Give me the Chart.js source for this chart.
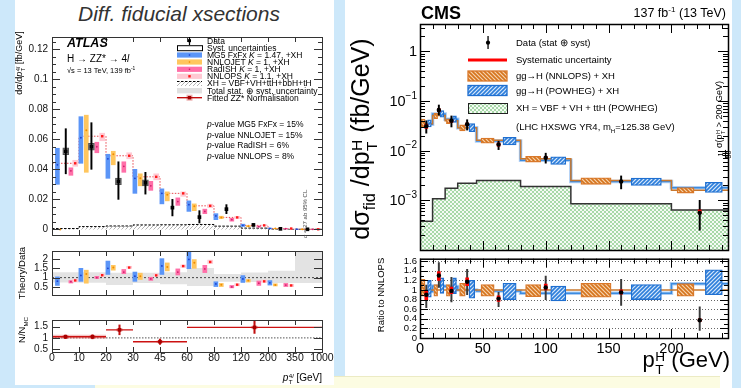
<!DOCTYPE html>
<html>
<head>
<meta charset="utf-8">
<title>Higgs pT fiducial cross sections: ATLAS and CMS</title>
<script src="https://cdn.jsdelivr.net/npm/chart.js@4.4.1/dist/chart.umd.min.js"></script>
<style>
  body { margin: 0; width: 741px; height: 388px; overflow: hidden; position: relative;
         background: #cde8fa; font-family: "Liberation Sans", Arial, Helvetica, sans-serif; color: #000; }
  .panel { position: absolute; background: #fff; }
  .cv { position: absolute; }
  .t { position: absolute; white-space: nowrap; line-height: 1; transform: translateY(-50%); }
  .rot { position: absolute; white-space: nowrap; line-height: 1; transform: translate(-50%, -50%) rotate(-90deg); }
  .ss { display: inline-flex; flex-direction: column; font-size: 62%; line-height: 0.95; vertical-align: 0.45em; margin-left: 0.5px; }
  sup, sub { font-size: 65%; line-height: 0; }
  .lg { font-size: 8.5px; left: 207px; }
  .cl { font-size: 9.5px; left: 516px; }
</style>
</head>
<body>
<div class="panel" style="left:345px;top:0;width:387px;height:388px"></div>
<div style="position:absolute;left:95px;top:376px;width:625px;height:14px;background:#fcfce2;border-top:1px solid #ecebc4"></div>
<div class="panel" style="left:15px;top:0;width:319px;height:385px"></div>

<canvas id="atlasMain" class="cv" width="336" height="218" style="left:0;top:27px"></canvas>
<canvas id="atlasRatio" class="cv" width="336" height="64" style="left:0;top:241px"></canvas>
<canvas id="atlasNorm" class="cv" width="336" height="62" style="left:0;top:310px"></canvas>
<canvas id="cmsMain" class="cv" width="388" height="234" style="left:345px;top:20px"></canvas>
<canvas id="cmsRatio" class="cv" width="388" height="112" style="left:345px;top:250px"></canvas>

<!-- ATLAS texts -->
<div class="t" style="left:179px;top:13px;transform:translate(-50%,-50%);font-size:21px;font-style:italic;color:#333">Diff. fiducial xsections</div>
<div class="t" style="left:67px;top:43px;font-size:12.5px;font-weight:bold;font-style:italic">ATLAS</div>
<div class="t" style="left:67px;top:58.5px;font-size:10px">H → ZZ* → 4<i>l</i></div>
<div class="t" style="left:67px;top:71px;font-size:7.5px">√s = 13 TeV, 139 fb<sup>-1</sup></div>
<div class="t lg" style="top:40.7px">Data</div>
<div class="t lg" style="top:47.7px">Syst. uncertainties</div>
<div class="t lg" style="top:55px">MG5 FxFx <i>K</i> = 1.47, +XH</div>
<div class="t lg" style="top:62px">NNLOJET <i>K</i> = 1, +XH</div>
<div class="t lg" style="top:69.3px">RadISH <i>K</i> = 1, +XH</div>
<div class="t lg" style="top:76.3px">NNLOPS <i>K</i> = 1.1, +XH</div>
<div class="t lg" style="top:83.3px">XH = VBF+VH+ttH+bbH+tH</div>
<div class="t lg" style="top:90.7px">Total stat. ⊕ syst. uncertainty</div>
<div class="t lg" style="top:97.7px">Fitted ZZ* Normalisation</div>
<div class="t lg" style="top:124px"><i>p</i>-value MG5 FxFx = 15%</div>
<div class="t lg" style="top:134.5px"><i>p</i>-value NNLOJET = 15%</div>
<div class="t lg" style="top:145px"><i>p</i>-value RadISH = 6%</div>
<div class="t lg" style="top:155.5px"><i>p</i>-value NNLOPS = 8%</div>
<div class="rot" style="left:305px;top:214px;font-size:6px;color:#444">σ &lt; 27 ab 95% CL</div>
<div class="rot" style="left:21px;top:63px;font-size:9px">dσ/d<i>p</i><span class="ss"><span>4<i>l</i></span><span>T</span></span> [fb/GeV]</div>
<div class="rot" style="left:21.5px;top:273px;font-size:9.5px">Theory/Data</div>
<div class="rot" style="left:21.5px;top:330px;font-size:9.5px">N/N<sub>MC</sub></div>
<div class="t" style="right:419px;top:379px;font-size:10px"><i>p</i><span class="ss"><span>4<i>l</i></span><span>T</span></span> [GeV]</div>

<!-- CMS texts -->
<div class="t" style="left:421px;top:13px;font-size:18px;font-weight:bold">CMS</div>
<div class="t" style="right:15px;top:13px;font-size:12.5px">137 fb<sup>-1</sup> (13 TeV)</div>
<div class="t cl" style="top:42.7px">Data (stat ⊕ syst)</div>
<div class="t cl" style="top:60px">Systematic uncertainty</div>
<div class="t cl" style="top:76px">gg→H (NNLOPS) + XH</div>
<div class="t cl" style="top:90.7px">gg→H (POWHEG) + XH</div>
<div class="t cl" style="top:108.3px">XH = VBF + VH + ttH (POWHEG)</div>
<div class="t cl" style="top:127px">(LHC HXSWG YR4, m<sub>H</sub>=125.38 GeV)</div>
<div class="rot" style="left:364px;top:139px;font-size:25px">dσ<sub>fid</sub> /dp<span class="ss"><span>H</span><span>T</span></span> (fb/GeV)</div>
<div class="rot" style="left:381px;top:295px;font-size:9.5px">Ratio to NNLOPS</div>
<div class="t" style="right:11px;top:363px;font-size:22px">p<span class="ss"><span>H</span><span>T</span></span> (GeV)</div>
<div class="rot" style="left:724px;top:120px;font-size:9px"><span class="ss" style="font-size:80%;vertical-align:-0.2em;text-align:center"><span style="border-bottom:0.6px solid #000">1</span><span>50</span></span> σ(p<span class="ss"><span>H</span><span>T</span></span> &gt; 200 GeV)</div>

<script>
// ===================== ATLAS  H -> ZZ* -> 4l =====================
const atlasTickLabels = ['0', '10', '20', '30', '45', '60', '80', '120', '200', '350', '1000'];

// main panel, dsigma/dpT [fb/GeV], one value per bin
const mg5       = [0.043, 0.061, 0.047, 0.034, 0.024, 0.0165, 0.009, 0.0027, 0.0007, 0.00015];
const mg5Lo     = [0.030, 0.044, 0.034, 0.024, 0.017, 0.012, 0.0065, 0.002, 0.0005, 0.0001];
const mg5Hi     = [0.054, 0.075, 0.050, 0.040, 0.027, 0.019, 0.0105, 0.0035, 0.0009, 0.0002];
const nnlojet   = [0, 0.066, 0.050, 0.034, 0.023, 0.0155, 0.008, 0.0022, 0.0006, 0.0001];
const nnlojetLo = [null, 0.038, 0.043, 0.029, 0.019, 0.0125, 0.0072, 0.0018, 0.0005, 0.0001];
const nnlojetHi = [null, 0.076, 0.052, 0.037, 0.025, 0.017, 0.0088, 0.0026, 0.0007, 0.00015];
const radish    = [0.039, 0.055, 0.042, 0.029, 0.0185, 0.012, 0.0065, 0.0019, 0.0005, 0.0001];
const radishLo  = [0.036, 0.051, 0.038, 0.026, 0.016, 0.0105, 0.0055, 0.0015, 0.0004, 0.00005];
const radishHi  = [0.041, 0.058, 0.045, 0.032, 0.021, 0.0135, 0.0074, 0.0023, 0.0006, 0.00015];
const nnlops    = [0.044, 0.062, 0.049, 0.035, 0.024, 0.0157, 0.008, 0.0027, 0.0006, 0.0001];
const nnlopsLo  = [0.042, 0.059, 0.047, 0.033, 0.022, 0.0145, 0.0073, 0.0024, 0.0005, 0.00005];
const nnlopsHi  = [0.046, 0.064, 0.051, 0.037, 0.025, 0.0168, 0.0087, 0.003, 0.0007, 0.00015];
const atlasData   = [0.052, 0.055, 0.032, 0.031, 0.0145, 0.0082, 0.0135, 0.003, 0.0004, 0.0001];
const atlasDataLo = [0.037, 0.040, 0.020, 0.0235, 0.009, 0.0043, 0.0105, 0.0022, 0.0001, 0];
const atlasDataHi = [0.067, 0.071, 0.045, 0.038, 0.020, 0.0125, 0.0165, 0.0038, 0.0007, 0.0002];
const atlasSyst   = [0.0022, 0.0022, 0.0022, 0.002, null, null, null, null, null, null];
const xhAtlas     = [0.0006, 0.0019, 0.0023, 0.003, 0.0031, 0.0033, 0.0022, 0.0009, 0.0003, 0.0001];

// Theory / Data
const mg5R       = [0.81, 1.12, 1.5, 1.08, 1.63, 1.98, 0.66, 0.93, 0.72, null];
const mg5RLo     = [0.58, 0.80, 1.17, 0.80, 1.17, 1.48, 0.52, 0.74, 0.60, null];
const mg5RHi     = [1.04, 1.50, 1.89, 1.30, 2.02, 2.40, 0.78, 1.11, 0.84, null];
const nnlojetR   = [null, 1.2, 1.55, 1.08, 1.57, 1.8, 0.62, 0.84, 0.61, null];
const nnlojetRLo = [null, 0.70, 1.40, 0.90, 1.36, 1.50, 0.52, 0.76, 0.55, null];
const nnlojetRHi = [null, 1.40, 1.66, 1.24, 1.79, 1.97, 0.69, 0.90, 0.67, null];
const radishR    = [0.78, 1.0, 1.3, 0.93, 1.3, 1.47, 0.5, 0.7, 0.6, null];
const radishRLo  = [0.71, 0.95, 1.21, 0.85, 1.14, 1.27, 0.45, 0.58, 0.52, null];
const radishRHi  = [0.84, 1.07, 1.44, 1.02, 1.47, 1.66, 0.58, 0.82, 0.69, null];
const nnlopsR    = [0.85, 1.13, 1.54, 1.12, 1.62, 1.84, 0.62, 0.8, 0.58, null];
const nnlopsRLo  = [0.78, 1.07, 1.50, 1.08, 1.55, 1.76, 0.56, 0.74, 0.52, null];
const nnlopsRHi  = [0.92, 1.20, 1.61, 1.20, 1.68, 1.94, 0.68, 0.87, 0.64, null];
const totUncLo   = [0.74, 0.72, 0.61, 0.71, 0.64, 0.55, 0.78, 0.76, 0.71, 0.71];
const totUncHi   = [1.29, 1.29, 1.26, 1.26, 1.29, 1.52, 1.20, 1.27, 1.37, 2.43];

// fitted ZZ* normalisation (x in bin-index units)
const normCenter = [0.5, 1.5, 2.5, 4, 7.5];
const normFrom   = [0, 1, 2, 3, 5];
const normTo     = [1, 2, 3, 5, 10];
const normVal    = [1.05, 1.05, 1.36, 0.83, 1.47];
const normErr    = [0.08, 0.09, 0.22, 0.12, 0.27];

// ===================== CMS  H pT =====================
const cmsEdges  = [0, 10, 20, 30, 45, 80, 120, 200, 245];
const cmsDataX  = [5, 15, 25, 37.5, 62.5, 100, 160, 222.5];
const cmsData   = [0.031, 0.066, 0.040, 0.034, 0.0133, 0.0072, 0.0024, 0.00056];
const cmsDataLo = [0.0225, 0.052, 0.030, 0.026, 0.0105, 0.0056, 0.0017, 0.00025];
const cmsDataHi = [0.040, 0.083, 0.050, 0.042, 0.0155, 0.0089, 0.0031, 0.0010];
const cmsSystLo = [0.028, 0.061, 0.037, 0.032, 0.0123, 0.0069, 0.00228, 0.00054];
const cmsSystHi = [0.034, 0.070, 0.042, 0.036, 0.0143, 0.0077, 0.0025, 0.00064];
const cmsNnlops   = [0.035, 0.051, 0.040, 0.029, 0.0162, 0.0069, 0.0025, 0.0016];
const cmsNnlopsLo = [0.030, 0.044, 0.035, 0.025, 0.0141, 0.0059, 0.0021, 0.0014];
const cmsNnlopsHi = [0.043, 0.057, 0.044, 0.033, 0.018, 0.0077, 0.00285, 0.0018];
const cmsPowheg   = [0.034, 0.055, 0.043, 0.029, 0.0157, 0.0064, 0.0024, 0.0018];
const cmsPowhegLo = [0.030, 0.047, 0.037, 0.024, 0.013, 0.0053, 0.002, 0.00144];
const cmsPowhegHi = [0.042, 0.064, 0.050, 0.035, 0.0185, 0.0075, 0.0028, 0.0023];
const cmsXH       = [0.00038, 0.00108, 0.00176, 0.0022, 0.0025, 0.0019, 0.00085, 0.00064];

// ratio to NNLOPS
const cmsRatio     = [0.9, 1.3, 0.98, 1.17, 0.82, 1.05, 0.95, 0.37];
const cmsRatioLo   = [0.63, 1.05, 0.75, 0.9, 0.65, 0.8, 0.68, 0.16];
const cmsRatioHi   = [1.1, 1.57, 1.26, 1.43, 0.95, 1.29, 1.22, 0.65];
const cmsRSystLo   = [0.8, 1.2, 0.92, 1.09, 0.76, 1.0, 0.91, 0.34];
const cmsRSystHi   = [0.97, 1.38, 1.06, 1.25, 0.88, 1.12, 1.0, 0.40];
const nnlopsRatio   = [1, 1, 1, 1, 1, 1, 1, 1];
const nnlopsRatioLo = [0.87, 0.87, 0.87, 0.87, 0.87, 0.86, 0.85, 0.87];
const nnlopsRatioHi = [1.22, 1.11, 1.11, 1.14, 1.11, 1.11, 1.14, 1.13];
const powhegRatio   = [0.97, 1.08, 1.07, 1.0, 0.98, 0.93, 0.93, 1.13];
const powhegRatioLo = [0.85, 0.93, 0.92, 0.83, 0.8, 0.77, 0.8, 0.9];
const powhegRatioHi = [1.2, 1.25, 1.25, 1.2, 1.14, 1.08, 1.11, 1.42];

// ------------------------------------------------------------
const FONT = '"Liberation Sans", Arial, Helvetica, sans-serif';
Chart.defaults.font.family = FONT;
Chart.defaults.color = '#000';

function hatch(bg, fg, dir, step, lw) {
  const c = document.createElement('canvas');
  c.width = step; c.height = step;
  const g = c.getContext('2d');
  if (bg) { g.fillStyle = bg; g.fillRect(0, 0, step, step); }
  g.strokeStyle = fg; g.lineWidth = lw;
  const ln = (a, b, cc, d) => { g.beginPath(); g.moveTo(a, b); g.lineTo(cc, d); g.stroke(); };
  if (dir.includes('/')) { ln(-1, step + 1, step + 1, -1); ln(-1, 1, 1, -1); ln(step - 1, step + 1, step + 1, step - 1); }
  if (dir.includes('\\')) { ln(-1, -1, step + 1, step + 1); ln(step - 1, -1, step + 1, 1); ln(-1, step - 1, 1, step + 1); }
  return g.createPattern(c, 'repeat');
}
const grayHatch   = hatch(null, '#a0a0a0', '/', 4, 0.8);
const orangeHatch = hatch('#f6d2ad', '#d5741c', '\\', 4, 1.6);
const blueHatch   = hatch('#d9e8fa', '#2d7fdb', '/', 4, 1.6);
const greenHatch  = hatch('#f4fbf4', '#9fd49f', '/\\', 4, 0.9);

// ROOT-style frame with inward ticks
const rootAxes = {
  id: 'rootAxes',
  beforeDatasetsDraw(chart, args, o) {
    if (!o.grid) return;
    const { ctx, chartArea: a, scales: { y } } = chart;
    ctx.save();
    ctx.strokeStyle = '#666'; ctx.lineWidth = 1; ctx.setLineDash([1, 2]);
    ctx.beginPath();
    o.grid.forEach(v => { const py = Math.round(y.getPixelForValue(v)) + 0.5; ctx.moveTo(a.left, py); ctx.lineTo(a.right, py); });
    ctx.stroke();
    ctx.restore();
  },
  afterDatasetsDraw(chart, args, o) {
    const { ctx, chartArea: a, scales: { x, y } } = chart;
    ctx.save();
    ctx.strokeStyle = o.color || '#000';
    ctx.lineWidth = 1;
    ctx.beginPath();
    const xt = (vals, len) => (vals || []).forEach(v => {
      if (v < x.min || v > x.max) return;
      const px = Math.round(x.getPixelForValue(v)) + 0.5;
      ctx.moveTo(px, a.bottom); ctx.lineTo(px, a.bottom - len);
      ctx.moveTo(px, a.top); ctx.lineTo(px, a.top + len);
    });
    const yt = (vals, len) => (vals || []).forEach(v => {
      if (v < y.min || v > y.max) return;
      const py = Math.round(y.getPixelForValue(v)) + 0.5;
      ctx.moveTo(a.left, py); ctx.lineTo(a.left + len, py);
      ctx.moveTo(a.right, py); ctx.lineTo(a.right - len, py);
    });
    xt(o.xMajor, o.xMajorLen); xt(o.xMinor, o.xMinorLen);
    yt(o.yMajor, o.yMajorLen); yt(o.yMinor, o.yMinorLen);
    ctx.stroke();
    ctx.lineWidth = o.frameWidth || 1;
    ctx.strokeRect(a.left + 0.5, a.top + 0.5, a.right - a.left, a.bottom - a.top);
    ctx.restore();
  }
};

function pts(xs, ys, color, r, style) {
  return { type: 'scatter', data: xs.map((x, i) => ({ x, y: ys[i] })),
           pointBackgroundColor: color, pointBorderWidth: 0, pointRadius: r, pointStyle: style || 'circle' };
}
function bars(xs, lo, hi, color, w, extra) {
  return Object.assign({
    type: 'bar', grouped: false, barThickness: w, backgroundColor: color, borderWidth: 0, borderSkipped: false,
    data: xs.map((x, i) => ({ x, y: lo[i] == null ? null : [lo[i], hi[i]] }))
  }, extra || {});
}
function steps(edges, vals, color, w, extra) {
  const d = vals.map((v, i) => ({ x: edges[i], y: v }));
  d.push({ x: edges[edges.length - 1], y: vals[vals.length - 1] });
  return Object.assign({ type: 'line', data: d, stepped: true, borderColor: color, borderWidth: w,
                         pointRadius: 0, fill: false }, extra || {});
}
function hline(x0, x1, y, color, w, dash) {
  return { type: 'line', data: [{ x: x0, y }, { x: x1, y }], borderColor: color, borderWidth: w,
           borderDash: dash || [], pointRadius: 0, fill: false };
}
// CMS uncertainty boxes, one dataset per bin, spanning part of the bin
function boxSets(lo, hi, f0, f1, fill, border) {
  return lo.map((l, i) => {
    const a = cmsEdges[i], w = cmsEdges[i + 1] - a, x0 = a + f0 * w, x1 = a + f1 * w;
    return {
      type: 'bar', grouped: false, borderSkipped: false, backgroundColor: fill, borderColor: border, borderWidth: 1.3,
      barThickness: c => c.chart.scales.x.getPixelForValue(x1) - c.chart.scales.x.getPixelForValue(x0),
      data: [{ x: (x0 + x1) / 2, y: [l, hi[i]] }]
    };
  });
}
function baseOpts(pad, axes, scales, plugins) {
  return {
    responsive: false, animation: false, events: [], devicePixelRatio: 1,
    layout: { padding: pad },
    plugins: Object.assign({ legend: { display: false }, tooltip: { enabled: false }, rootAxes: axes }, plugins || {}),
    scales
  };
}
const noGrid = { display: false, drawTicks: false };

// ---------------- ATLAS ----------------
const slot = { mg5: 0.07, nnlojet: 0.27, data: 0.46, radish: 0.66, nnlops: 0.86 };
const slotFirst = { mg5: 0.2, nnlojet: 0.3, data: 0.51, radish: 0.7, nnlops: 0.86 };
const xOf = k => mg5.map((_, i) => i + (i === 0 ? slotFirst[k] : slot[k]));
const xMG = xOf('mg5'), xNJ = xOf('nnlojet'), xDA = xOf('data'), xRA = xOf('radish'), xNP = xOf('nnlops');
const idxEdges = atlasTickLabels.map((_, i) => i);

const C_BLUE = '#5b95f7', C_ORANGE = '#ffc65e', C_PINK = '#ff6fa8', C_LPINK = '#ffc9d3';
const atlasX = (show) => ({
  type: 'linear', min: 0, max: 10, offset: false, display: show, grid: noGrid, border: { display: false },
  ticks: { stepSize: 1, autoSkip: false, maxRotation: 0, padding: 0, font: { size: 10.5 }, color: '#111',
           callback: v => atlasTickLabels[v] }
});
const atlasY = (min, max, step, fmt) => ({
  type: 'linear', min, max, grid: noGrid, border: { display: false },
  ticks: { stepSize: step, includeBounds: false, autoSkip: false, padding: 4, font: { size: 10 }, color: '#111', callback: fmt },
  afterFit: s => { s.width = 52; }
});

const yMinorA = [];
for (let v = 0.005; v < 0.128; v += 0.005) if (Math.abs(v / 0.02 - Math.round(v / 0.02)) > 1e-6) yMinorA.push(v);

const atlasLegend = {
  id: 'atlasLegend',
  afterDraw(chart) {
    const g = chart.ctx, oy = 27, x0 = 177, w = 25, xc = 189.5;
    const Y = v => v - oy;
    g.save();
    // Data
    g.fillStyle = '#000';
    g.fillRect(xc - 0.6, Y(37), 1.2, 8);
    g.fillRect(xc - 1.5, Y(39.2), 3, 3);
    // Syst
    g.strokeStyle = '#000'; g.lineWidth = 1;
    g.strokeRect(x0 + 0.5, Y(45.2) + 0.5, w, 5);
    // models
    const box = (y, c, dot) => { g.fillStyle = c; g.fillRect(x0, Y(y - 2.6), w, 5.2); g.fillStyle = dot; g.fillRect(xc - 0.7, Y(y - 0.7), 1.4, 1.4); };
    box(55, C_BLUE, '#1c3fd0'); box(62, C_ORANGE, '#f08c00'); box(69.3, C_PINK, '#d0206e');
    g.fillStyle = C_LPINK; g.fillRect(x0, Y(73.7), w, 5.2); g.fillStyle = '#ff1a1a'; g.fillRect(xc - 1.2, Y(75.1), 2.4, 2.4);
    // XH
    g.fillStyle = grayHatch; g.fillRect(x0, Y(81), w, 5);
    g.strokeStyle = '#000'; g.setLineDash([2.5, 1.5]); g.beginPath(); g.moveTo(x0, Y(81.5)); g.lineTo(x0 + w, Y(81.5)); g.stroke(); g.setLineDash([]);
    // total unc
    g.fillStyle = '#e0e0e0'; g.fillRect(x0, Y(88), w, 5.4);
    // fitted ZZ
    g.fillStyle = 'rgba(220,100,100,0.5)'; g.fillRect(xc - 3, Y(94.7), 6, 6);
    g.strokeStyle = '#c00000'; g.lineWidth = 1.3; g.beginPath(); g.moveTo(x0, Y(97.7)); g.lineTo(x0 + w, Y(97.7)); g.stroke();
    g.fillStyle = '#a00000'; g.fillRect(xc - 1.7, Y(96), 3.4, 3.4);
    g.restore();
  }
};

new Chart(document.getElementById('atlasMain'), {
  type: 'bar',
  data: { datasets: [
    pts(xDA, atlasData, '#000', 2.6, 'rect'),
    bars(xDA, atlasDataLo, atlasDataHi, '#000', 1.3),
    bars(xDA, atlasData.map((v, i) => atlasSyst[i] == null ? null : v - atlasSyst[i]),
         atlasData.map((v, i) => atlasSyst[i] == null ? null : v + atlasSyst[i]),
         'rgba(160,160,160,0.35)', 6, { borderWidth: 1, borderColor: '#555' }),
    pts(xNP, nnlops, '#ff1a1a', 1.7, 'rect'),
    bars(xNP, nnlopsLo, nnlopsHi, C_LPINK, 5),
    pts(xRA, radish, '#d0206e', 0.9),
    bars(xRA, radishLo, radishHi, C_PINK, 4),
    pts(xNJ, nnlojet, '#f08c00', 1),
    bars(xNJ, nnlojetLo, nnlojetHi, C_ORANGE, 4),
    pts(xMG, mg5, '#1c3fd0', 0.9),
    bars(xMG, mg5Lo, mg5Hi, C_BLUE, 4),
    steps(idxEdges, nnlops, '#e8474f', 1, { borderDash: [1.5, 1.5] }),
    steps(idxEdges, xhAtlas, '#000', 1, { borderDash: [2.5, 1.5], fill: 'origin', backgroundColor: grayHatch })
  ] },
  options: baseOpts({ left: 0, right: 14, top: 3, bottom: 2 },
    { xMajor: idxEdges, xMajorLen: 5, yMajor: [0, 0.02, 0.04, 0.06, 0.08, 0.1, 0.12], yMajorLen: 8,
      yMinor: yMinorA, yMinorLen: 4, color: '#333' },
    { x: atlasX(false),
      y: atlasY(-0.0037, 0.128, 0.02, v => v === 0 ? '0' : String(parseFloat(v.toFixed(3)))) }),
  plugins: [rootAxes, atlasLegend]
});

new Chart(document.getElementById('atlasRatio'), {
  type: 'bar',
  data: { datasets: [
    pts(xNP, nnlopsR, '#ff1a1a', 1.7, 'rect'),
    bars(xNP, nnlopsRLo, nnlopsRHi, C_LPINK, 5),
    pts(xRA, radishR, '#d0206e', 0.9),
    bars(xRA, radishRLo, radishRHi, C_PINK, 4),
    pts(xNJ, nnlojetR, '#f08c00', 1),
    bars(xNJ, nnlojetRLo, nnlojetRHi, C_ORANGE, 4),
    pts(xMG, mg5R, '#1c3fd0', 0.9),
    bars(xMG, mg5RLo, mg5RHi, C_BLUE, 4),
    hline(0, 10, 1, '#444', 1, [2, 2]),
    steps(idxEdges, totUncHi, 'rgba(0,0,0,0)', 1, { fill: '+1', backgroundColor: '#e3e3e3' }),
    steps(idxEdges, totUncLo, 'rgba(0,0,0,0)', 1)
  ] },
  options: baseOpts({ left: 0, right: 14, top: 2, bottom: 2 },
    { xMajor: idxEdges, xMajorLen: 5, yMajor: [0.5, 1, 1.5, 2], yMajorLen: 8, color: '#333' },
    { x: atlasX(false), y: atlasY(0.067, 2.43, 0.5, v => String(v)) }),
  plugins: [rootAxes]
});

const normLine = [];
normVal.forEach((v, i) => { normLine.push({ x: normFrom[i], y: v }, { x: normTo[i], y: v }, { x: normTo[i], y: null }); });
const normBand = normLine.slice(0, 6);
new Chart(document.getElementById('atlasNorm'), {
  type: 'bar',
  data: { datasets: [
    pts(normCenter, normVal, '#a80000', 2.6, 'rect'),
    bars(normCenter, normVal.map((v, i) => v - normErr[i]), normVal.map((v, i) => v + normErr[i]), '#c01010', 1.4),
    { type: 'line', data: normLine, borderColor: '#cc1111', borderWidth: 1.4, pointRadius: 0, fill: false, spanGaps: false },
    bars(normCenter, normVal.map(v => v - 0.045), normVal.map(v => v + 0.045), 'rgba(225,100,100,0.5)', 6),
    { type: 'line', data: normBand, borderColor: 'rgba(230,120,120,0.45)', borderWidth: 4, pointRadius: 0, fill: false, spanGaps: false },
    hline(0, 10, 1, '#555', 1, [1.5, 1.5])
  ] },
  options: baseOpts({ left: 0, right: 14, top: 2, bottom: 0 },
    { xMajor: idxEdges, xMajorLen: 5, yMajor: [0.5, 1, 1.5], yMajorLen: 8, color: '#333' },
    { x: Object.assign(atlasX(true), { afterFit: s => { s.height = 20; } }),
      y: atlasY(0.37, 1.8, 0.5, v => String(v)) }),
  plugins: [rootAxes]
});

// ---------------- CMS ----------------
const cmsXMajor = [0, 50, 100, 150, 200];
const cmsXMinor = [];
for (let v = 10; v < 245; v += 10) if (v % 50) cmsXMinor.push(v);
const logMajor = [1e-4, 1e-3, 1e-2, 1e-1, 1];
const logMinor = [];
logMajor.forEach(d => { for (let k = 2; k <= 9; k++) logMinor.push(d * k); });

const cmsX = (show) => ({
  type: 'linear', min: 0, max: 245, offset: false, display: show, grid: noGrid, border: { display: false },
  ticks: { stepSize: 50, includeBounds: false, autoSkip: false, maxRotation: 0, padding: 2, font: { size: 14.5 }, color: '#000' }
});

const cmsDecor = {
  id: 'cmsDecor',
  afterDraw(chart) {
    const g = chart.ctx, a = chart.chartArea, ys = chart.scales.y;
    const ox = 345, oy = 20;
    g.save();
    // log axis labels
    g.fillStyle = '#000'; g.textAlign = 'right'; g.textBaseline = 'middle';
    [1, 0.1, 0.01, 0.001].forEach(v => {
      const py = ys.getPixelForValue(v);
      const e = Math.round(Math.log10(v));
      if (e === 0) { g.font = '14.5px ' + FONT; g.fillText('1', a.left - 3, py + 1); return; }
      const sup = '\u2212' + (-e);
      g.font = '10px ' + FONT;
      const w = g.measureText(sup).width;
      g.fillText(sup, a.left - 3, py - 5);
      g.font = '14.5px ' + FONT;
      g.fillText('10', a.left - 3 - w, py + 1);
    });
    // legend symbols
    const X = v => v - ox, Y = v => v - oy;
    g.fillStyle = '#000';
    g.fillRect(X(487.4), Y(36), 1.3, 13);
    g.beginPath(); g.arc(X(488), Y(42.7), 2.1, 0, Math.PI * 2); g.fill();
    g.fillStyle = '#ff0000'; g.fillRect(X(468), Y(58.5), 39, 3);
    g.fillStyle = orangeHatch; g.fillRect(X(468), Y(71), 39, 10);
    g.strokeStyle = '#d9782a'; g.lineWidth = 1.3; g.strokeRect(X(468), Y(71), 39, 10);
    g.fillStyle = blueHatch; g.fillRect(X(468), Y(85.5), 39, 10);
    g.strokeStyle = '#1f6fd0'; g.strokeRect(X(468), Y(85.5), 39, 10);
    g.fillStyle = greenHatch; g.fillRect(X(468), Y(103), 39, 10);
    g.strokeStyle = '#222'; g.lineWidth = 1; g.strokeRect(X(468) + 0.5, Y(103) + 0.5, 39, 10);
    g.restore();
  }
};

new Chart(document.getElementById('cmsMain'), {
  type: 'bar',
  data: { datasets: [
    pts(cmsDataX, cmsData, '#000', 2.2),
    bars(cmsDataX, cmsSystLo, cmsSystHi, '#ff0000', 3),
    bars(cmsDataX, cmsDataLo, cmsDataHi, '#000', 1.3),
    ...boxSets(cmsPowhegLo, cmsPowhegHi, 0.6, 0.9, blueHatch, '#1f6fd0'),
    ...boxSets(cmsNnlopsLo, cmsNnlopsHi, 0.1, 0.4, orangeHatch, '#d9782a'),
    steps(cmsEdges, cmsNnlops, '#c9782e', 1.5),
    steps(cmsEdges, cmsPowheg, '#3b8be0', 1.5),
    steps(cmsEdges, cmsPowheg, 'rgba(140,185,240,0.7)', 3.5),
    steps(cmsEdges, cmsXH, '#333', 1.5, { fill: 'start', backgroundColor: greenHatch })
  ] },
  options: baseOpts({ left: 0, right: 5, top: 3, bottom: 2 },
    { xMajor: cmsXMajor, xMajorLen: 9, xMinor: cmsXMinor, xMinorLen: 5,
      yMajor: logMajor, yMajorLen: 10, yMinor: logMinor, yMinorLen: 5, frameWidth: 1.5 },
    { x: cmsX(false),
      y: { type: 'logarithmic', min: 1e-4, max: 3.55, grid: noGrid, border: { display: false },
           ticks: { display: false }, afterFit: s => { s.width = 75; } } }),
  plugins: [rootAxes, cmsDecor]
});

const rMajor = [0, 0.2, 0.4, 0.6, 0.8, 1, 1.2, 1.4, 1.6];
new Chart(document.getElementById('cmsRatio'), {
  type: 'bar',
  data: { datasets: [
    pts(cmsDataX, cmsRatio, '#000', 2.2),
    bars(cmsDataX, cmsRSystLo, cmsRSystHi, '#ff0000', 3),
    bars(cmsDataX, cmsRatioLo, cmsRatioHi, '#3a3a3a', 1.3),
    ...boxSets(powhegRatioLo, powhegRatioHi, 0.6, 0.9, blueHatch, '#1f6fd0'),
    ...boxSets(nnlopsRatioLo, nnlopsRatioHi, 0.1, 0.4, orangeHatch, '#d9782a'),
    steps(cmsEdges, nnlopsRatio, '#c9782e', 1.5),
    steps(cmsEdges, powhegRatio, '#3b8be0', 1.5),
    steps(cmsEdges, powhegRatio, 'rgba(140,185,240,0.7)', 3.5)
  ] },
  options: baseOpts({ left: 0, right: 5, top: 2, bottom: 0 },
    { xMajor: cmsXMajor, xMajorLen: 9, xMinor: cmsXMinor, xMinorLen: 5,
      yMajor: rMajor, yMajorLen: 8, yMinor: [0.1, 0.3, 0.5, 0.7, 0.9, 1.1, 1.3, 1.5], yMinorLen: 4,
      frameWidth: 1.5, grid: [0.2, 0.4, 0.6, 0.8, 1.2, 1.4, 1.6] },
    { x: Object.assign(cmsX(true), { afterFit: s => { s.height = 24; } }),
      y: { type: 'linear', min: 0, max: 1.65, grid: noGrid, border: { display: false },
           ticks: { stepSize: 0.2, includeBounds: false, autoSkip: false, padding: 3, font: { size: 9.5 }, color: '#000',
                    callback: v => v === 0 ? '0' : (Math.abs(v - 1) < 1e-9 ? '1' : v.toFixed(1)) },
           afterFit: s => { s.width = 75; } } }),
  plugins: [rootAxes]
});
</script>
</body>
</html>
